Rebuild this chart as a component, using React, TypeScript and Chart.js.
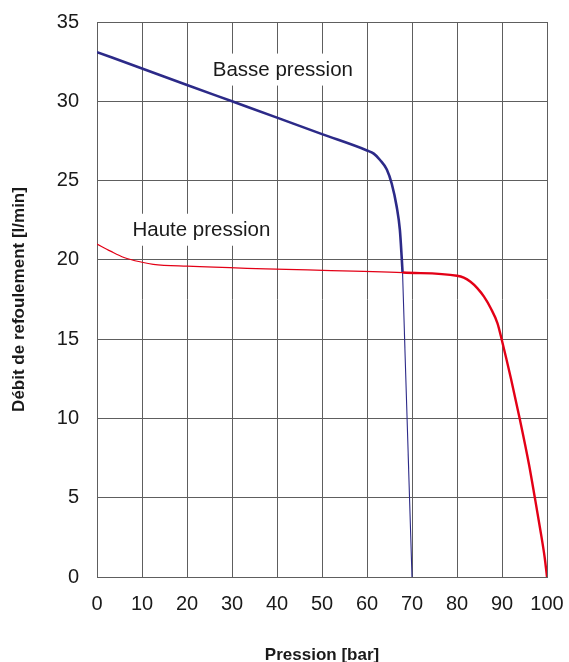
import React, { useEffect, useRef } from "react";
import { Chart, registerables } from "chart.js";

Chart.register(...registerables);

// X axis: Pression [bar], Y axis: Débit de refoulement [l/min]
const xTicks = [0, 10, 20, 30, 40, 50, 60, 70, 80, 90, 100];
const yTicks = [0, 5, 10, 15, 20, 25, 30, 35];

// Basse pression (blue) — thick part
const blueThickX = [0, 10, 20, 30, 40, 50, 60, 61.5, 62.9, 64.4, 65.5, 66.6, 67.3, 67.7, 67.9];
const blueThickY = [33.1, 32.07, 31.03, 30.0, 28.97, 27.93, 26.9, 26.7, 26.3, 25.7, 24.8, 23.35, 21.9, 20.2, 19.2];
// Basse pression (blue) — thin part
const blueThinX = [67.9, 70];
const blueThinY = [19.2, 0];

// Haute pression (red) — thin part
const redThinX = [0, 3, 6, 10, 12.5, 20, 68];
const redThinY = [21.0, 20.55, 20.15, 19.85, 19.72, 19.6, 19.2];
// Haute pression (red) — thick part
const redThickX = [68, 80, 81.5, 83, 84.5, 86, 87.5, 89, 90, 92, 94, 96, 97.3, 98.5, 99.5, 100];
const redThickY = [19.2, 19.0, 18.88, 18.62, 18.22, 17.68, 16.95, 16.0, 14.9, 12.5, 9.9, 7.1, 5.0, 3.0, 1.2, 0];

const labelTexts = ["Basse pression", "Haute pression"];
const labelX = [41.3, 23.2];
const labelY = [32.0, 21.9];

const BLUE = "#2c2a88";
const RED = "#e30016";
const GRID = "#5e5e5e";

const pts = (xs: number[], ys: number[]) => xs.map((x, i) => ({ x, y: ys[i] }));

const labelPlugin = {
  id: "curveLabels",
  afterDatasetsDraw(chart: any) {
    const { ctx, scales } = chart;
    ctx.save();
    ctx.font = '20.5px "Liberation Sans", Arial, sans-serif';
    ctx.textAlign = "center";
    ctx.textBaseline = "middle";
    labelTexts.forEach((t, i) => {
      const px = scales.x.getPixelForValue(labelX[i]);
      const py = scales.y.getPixelForValue(labelY[i]);
      const w = ctx.measureText(t).width;
      ctx.fillStyle = "#ffffff";
      ctx.fillRect(px - w / 2 - 5, py - 16, w + 10, 32);
      ctx.fillStyle = "#1a1a1a";
      ctx.fillText(t, px, py + 1);
    });
    ctx.restore();
  },
};

const zeroPad = (axis: any) => {
  axis.paddingTop = 0;
  axis.paddingBottom = 0;
  axis.paddingLeft = 0;
  axis.paddingRight = 0;
};

export default function App() {
  const ref = useRef<HTMLCanvasElement | null>(null);
  useEffect(() => {
    if (!ref.current) return;
    const lineDs = (data: any[], color: string, width: number) => ({
      data,
      borderColor: color,
      backgroundColor: color,
      borderWidth: width,
      pointRadius: 0,
      fill: false,
      cubicInterpolationMode: "monotone" as const,
      tension: 0,
    });
    const chart = new Chart(ref.current, {
      type: "line",
      data: {
        datasets: [
          lineDs(pts(redThinX, redThinY), RED, 1.2),
          lineDs(pts(redThickX, redThickY), RED, 2.4),
          lineDs(pts(blueThickX, blueThickY), BLUE, 2.6),
          lineDs(pts(blueThinX, blueThinY), BLUE, 1.1),
        ],
      },
      options: {
        animation: false,
        responsive: true,
        maintainAspectRatio: false,
        layout: { padding: { top: 22, right: 22, left: 0, bottom: 0 } },
        plugins: { legend: { display: false }, tooltip: { enabled: false } },
        scales: {
          x: {
            type: "linear",
            min: 0,
            max: 100,
            afterBuildTicks: (axis: any) => {
              axis.ticks = xTicks.map((v) => ({ value: v }));
            },
            afterFit: (axis: any) => {
              axis.height = 85;
              zeroPad(axis);
            },
            grid: { color: GRID, lineWidth: 1, drawTicks: false },
            border: { color: GRID, width: 1 },
            ticks: {
              padding: 15,
              color: "#1a1a1a",
              font: { family: '"Liberation Sans", Arial, sans-serif', size: 20 },
              maxRotation: 0,
            },
            title: {
              display: true,
              text: "Pression [bar]",
              color: "#1a1a1a",
              font: { family: '"Liberation Sans", Arial, sans-serif', size: 17, weight: "bold", lineHeight: 1 },
              padding: { top: 0, bottom: -2 },
            },
          },
          y: {
            type: "linear",
            min: 0,
            max: 35,
            afterBuildTicks: (axis: any) => {
              axis.ticks = yTicks.map((v) => ({ value: v }));
            },
            afterFit: (axis: any) => {
              axis.width = 97;
              zeroPad(axis);
            },
            grid: { color: GRID, lineWidth: 1, drawTicks: false },
            border: { color: GRID, width: 1 },
            ticks: {
              padding: 18,
              color: "#1a1a1a",
              font: { family: '"Liberation Sans", Arial, sans-serif', size: 20 },
            },
            title: {
              display: true,
              text: "Débit de refoulement [l/min]",
              color: "#1a1a1a",
              font: { family: '"Liberation Sans", Arial, sans-serif', size: 17, weight: "bold", lineHeight: 1 },
              padding: { top: 11, bottom: 0 },
            },
          },
        },
      },
      plugins: [labelPlugin],
    });
    return () => chart.destroy();
  }, []);
  return (
    <div style={{ position: "fixed", left: 0, top: 0, width: 569, height: 662, background: "#fff" }}>
      <canvas ref={ref} />
    </div>
  );
}
